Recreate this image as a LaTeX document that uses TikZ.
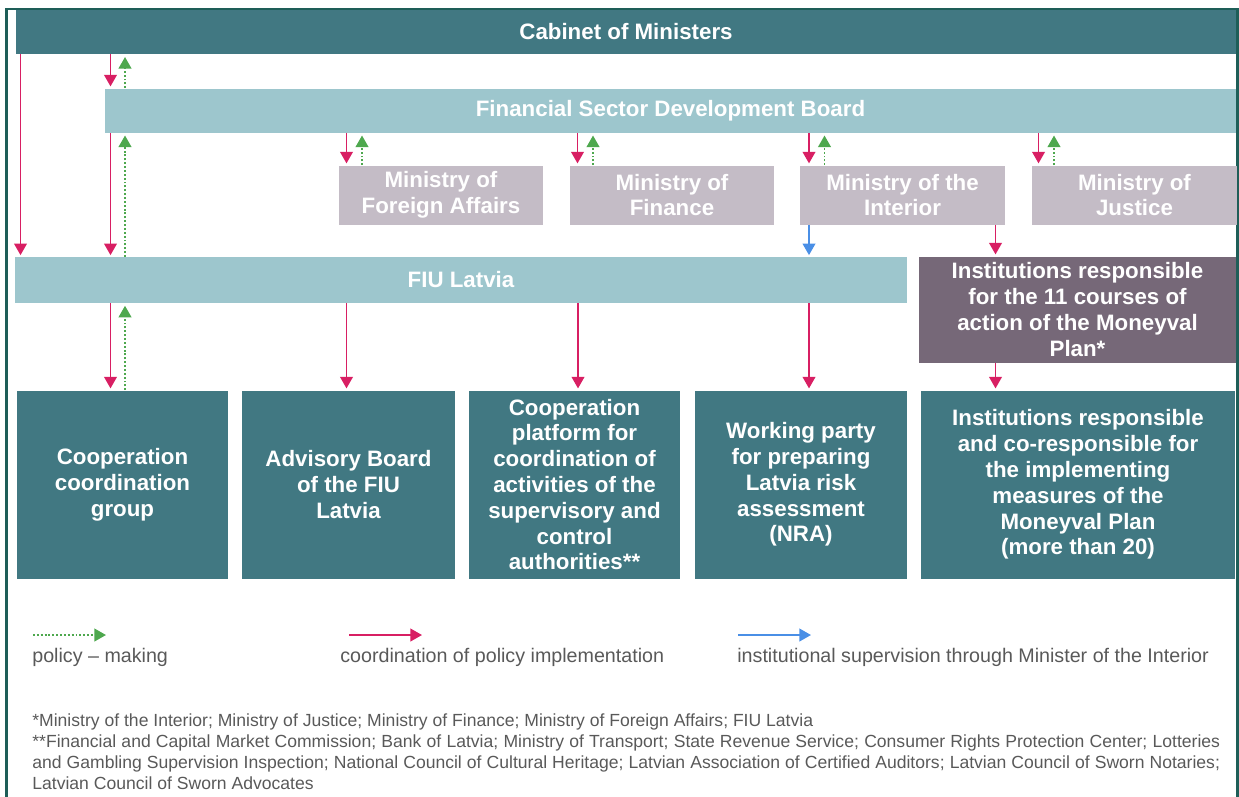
\documentclass[tikz,border=0pt]{standalone}
\usepackage{fontspec}
\setmainfont{Liberation Sans}
\usetikzlibrary{arrows.meta}
\definecolor{darkteal}{HTML}{417882}
\definecolor{lightteal}{HTML}{9DC6CD}
\definecolor{lightmauve}{HTML}{C4BCC6}
\definecolor{darkmauve}{HTML}{766878}
\definecolor{framegreen}{HTML}{1E5E58}
\definecolor{implred}{HTML}{D81F63}
\definecolor{policygreen}{HTML}{4EA84E}
\definecolor{superblue}{HTML}{4A8FE6}
\definecolor{legendgray}{HTML}{595959}
\tikzset{
box/.style={ % Sets the properties for each box
rectangle, inner sep=0pt, text=white, align=center,
font=\bfseries\fontsize{12.7}{14.7}\selectfont},
bar/.style={box, minimum height=0.88cm}, % long horizontal bars
ministry/.style={box, fill=lightmauve, minimum width=4.08cm, minimum height=1.18cm},
body/.style={box, fill=darkteal, minimum width=4.24cm, minimum height=3.76cm},
impl/.style={ % coordination of policy implementation
draw=implred, line width=1.1pt, shorten >=1pt,
-{Triangle[length=6.6pt, width=7.2pt]}},
policy/.style={ % policy making
draw=policygreen, line width=1.1pt, shorten >=1.5pt,
dash pattern=on 1.1pt off 1.1pt,
-{Triangle[length=6.6pt, width=7.2pt]}},
superv/.style={ % institutional supervision
draw=superblue, line width=1.1pt, shorten >=1pt,
-{Triangle[length=6.6pt, width=7.2pt]}},
legendtext/.style={anchor=west, inner sep=0pt, text=legendgray,
font=\fontsize{11.2}{13}\selectfont}}

\begin{document}
\begin{tikzpicture}[x=0.02cm, y=-0.02cm]
\useasboundingbox (0,0) rectangle (1239,796);
\draw[framegreen, line width=1.3pt] (6.5,800) -- (6.5,9) -- (1237.5,9) -- (1237.5,800);

\node[bar, fill=darkteal, minimum width=24.42cm] (cabinet) at (626,32) {Cabinet of Ministers};
\node[bar, fill=lightteal, minimum width=22.64cm] (fsdb) at (670.5,110.5) {Financial Sector Development Board};
\node[ministry] (mfa) at (441,195) {Ministry of\\Foreign Affairs};
\node[ministry] (mfin) at (672,195) {Ministry of\\Finance};
\node[ministry, minimum width=4.1cm] (mint) at (902.5,195) {Ministry of the\\Interior};
\node[ministry, minimum width=4.1cm] (mjus) at (1134.5,195) {Ministry of\\Justice};
\node[bar, fill=lightteal, minimum width=17.84cm, minimum height=0.91cm] (fiu) at (461,280) {FIU Latvia};
\node[box, fill=darkmauve, minimum width=6.36cm, minimum height=2.12cm] (plan) at (1077.5,309.5)
{Institutions responsible\\for the 11 courses of\\action of the Moneyval\\Plan*};
\node[body] (ccg) at (122.5,484.5) {Cooperation\\coordination\\group};
\node[body, minimum width=4.26cm] (adv) at (348.5,484.5) {Advisory Board\\of the FIU\\Latvia};
\node[body] (coop) at (574.5,484.5) {Cooperation\\platform for\\coordination of\\activities of the\\supervisory and\\control\\authorities**};
\node[body, minimum width=4.26cm] (nra) at (801,484.5) {Working party\\for preparing\\Latvia risk\\assessment\\(NRA)};
\node[body, minimum width=6.3cm] (measures) at (1078,484.5) {Institutions responsible\\and co-responsible for\\the implementing\\measures of the\\Moneyval Plan\\(more than 20)};

% cabinet and board
\draw[impl] (cabinet.south -| 20.5,0) -- (fiu.north -| 20.5,0);
\draw[impl] (cabinet.south -| 110.5,0) -- (fsdb.north -| 110.5,0);
\draw[policy] (fsdb.north -| 125,0) -- (cabinet.south -| 125,0);
\draw[impl] (fsdb.south -| 110.5,0) -- (fiu.north -| 110.5,0);
\draw[policy] (fiu.north -| 125,0) -- (fsdb.south -| 125,0);
% ministries
\foreach \m/\xr in {mfa/346.5, mfin/577.5, mint/809, mjus/1038.5}{
\draw[impl] (fsdb.south -| \xr,0) -- (\m.north -| \xr,0);
\draw[policy] (\m.north -| \xr+15.5,0) -- (fsdb.south -| \xr+15.5,0);
}
\draw[superv] (mint.south -| 809,0) -- (fiu.north -| 809,0);
\draw[impl] (mint.south -| 995.5,0) -- (plan.north -| 995.5,0);
% FIU to the working bodies
\draw[impl] (fiu.south -| 110.5,0) -- (ccg.north -| 110.5,0);
\draw[policy] (ccg.north -| 125,0) -- (fiu.south -| 125,0);
\draw[impl] (fiu.south -| 346.5,0) -- (adv.north -| 346.5,0);
\draw[impl] (fiu.south -| 578,0) -- (coop.north -| 578,0);
\draw[impl] (fiu.south -| 809,0) -- (nra.north -| 809,0);
\draw[impl] (plan.south -| 995.5,0) -- (measures.north -| 995.5,0);

% legend
\coordinate (pm1) at (33,635);
\coordinate (pm2) at (106,635);
\coordinate (ci1) at (349,635);
\coordinate (ci2) at (422,635);
\coordinate (is1) at (738,635);
\coordinate (is2) at (811,635);
\draw[policy, shorten >=0pt] (pm1) -- (pm2);
\draw[impl, shorten >=0pt] (ci1) -- (ci2);
\draw[superv, shorten >=0pt] (is1) -- (is2);
\node[legendtext] (pmtext) at (32,657) {policy – making};
\node[legendtext] (citext) at (340,657) {coordination of policy implementation};
\node[legendtext] (istext) at (737,657) {institutional supervision through Minister of the Interior};

% footnotes
\node[anchor=north west, inner sep=0pt, text=legendgray, text width=23.76cm, align=justify,
font=\fontsize{10}{12}\selectfont] (notes) at (32,713)
{\hyphenpenalty=10000\relax
*Ministry of the Interior; Ministry of Justice; Ministry of Finance; Ministry of Foreign Affairs; FIU Latvia\par
**Financial and Capital Market Commission; Bank of Latvia; Ministry of Transport; State Revenue Service; Consumer Rights Protection Center; Lotteries\linebreak
and Gambling Supervision Inspection; National Council of Cultural Heritage; Latvian Association of Certified Auditors; Latvian Council of Sworn Notaries;\linebreak
Latvian Council of Sworn Advocates};
\end{tikzpicture}
\end{document}
